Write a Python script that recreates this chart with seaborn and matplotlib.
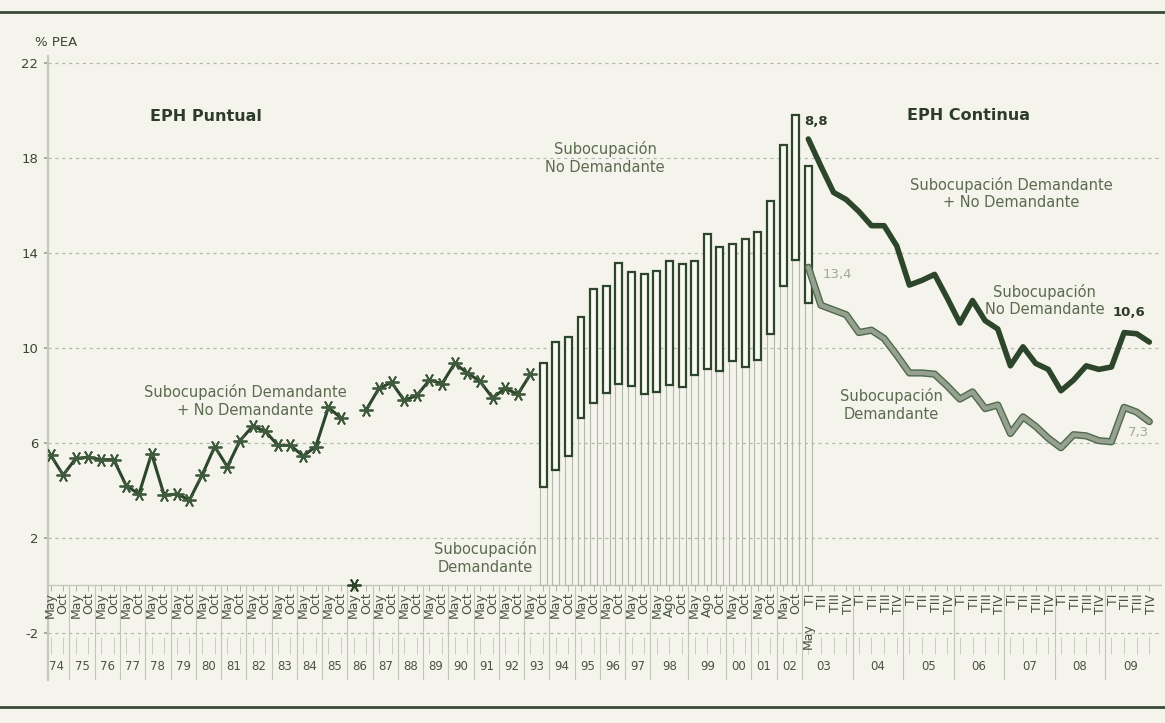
import numpy as np
import pandas as pd
import matplotlib
matplotlib.use("Agg")
import matplotlib.pyplot as plt
import matplotlib.patheffects as pe
import seaborn as sns

# EPH puntual: ondas por año
anios_puntual = ['74', '75', '76', '77', '78', '79', '80', '81', '82', '83', '84', '85', '86',
                 '87', '88', '89', '90', '91', '92', '93', '94', '95', '96', '97', '98', '99',
                 '00', '01', '02', '03']
ondas_puntual = ([['May', 'Oct']] * 24 + [['May', 'Ago', 'Oct']] * 2
                 + [['May', 'Oct']] * 3 + [['May']])

# subocupacion total (linea 74 May - 93 May), None = sin dato (May 86)
sub_total_linea = [5.5, 4.65, 5.35, 5.4, 5.3, 5.3, 4.2, 3.85, 5.55, 3.8,
                   3.85, 3.6, 4.65, 5.85, 5.0, 6.1, 6.7, 6.5, 5.9, 5.9,
                   5.45, 5.85, 7.5, 7.05, None, 7.4, 8.3, 8.55, 7.8, 8.0,
                   8.65, 8.5, 9.35, 8.95, 8.6, 7.9, 8.3, 8.05, 8.9]

# barras 93 Oct - 03 May: total (techo) y demandante (base)
sub_total_barras = [9.35, 10.25, 10.45, 11.3, 12.5, 12.6, 13.6, 13.2, 13.1, 13.25, 13.65,
                    13.55, 13.65, 14.8, 14.25, 14.4, 14.6, 14.9, 16.2, 18.55, 19.8, 17.65]
sub_dem_barras = [4.15, 4.85, 5.45, 7.05, 7.7, 8.1, 8.5, 8.4, 8.05, 8.15, 8.45,
                  8.35, 8.85, 9.1, 9.05, 9.45, 9.2, 9.5, 10.6, 12.6, 13.7, 11.9]

# EPH continua trimestral 2003 TI - 2009 TIV
anios_continua = ['03', '04', '05', '06', '07', '08', '09']
trimestres = ['TI', 'TII', 'TIII', 'TIV']
sub_total_continua = [18.8, 17.65, 16.55, 16.25, 15.75, 15.15, 15.15, 14.3, 12.65, 12.85,
                      13.1, 12.1, 11.05, 12.0, 11.15, 10.8, 9.25, 10.05, 9.35, 9.1,
                      8.2, 8.65, 9.25, 9.1, 9.2, 10.65, 10.6, 10.25]
sub_dem_continua = [13.4, 11.8, 11.6, 11.4, 10.65, 10.75, 10.4, 9.7, 8.95, 8.95,
                    8.9, 8.4, 7.85, 8.15, 7.45, 7.6, 6.4, 7.1, 6.7, 6.2,
                    5.8, 6.35, 6.3, 6.1, 6.05, 7.5, 7.3, 6.9]

# colores
FONDO = '#f4f4ec'
VERDE = '#2c452b'
GRIS_VERDE = '#5c6a50'
GRILLA = '#b4b8ab'

# posiciones
pos_p, lab_p, anio_p = [], [], []
for a, ondas in zip(anios_puntual, ondas_puntual):
    for o in ondas:
        pos_p.append(len(pos_p))
        lab_p.append(o)
        anio_p.append(a)
inicio_c = pos_p[-1]
pos_c, lab_c, anio_c = [], [], []
for a in anios_continua:
    for t in trimestres:
        pos_c.append(inicio_c + len(pos_c))
        lab_c.append(t)
        anio_c.append(a)

sns.set_theme(style="white")
plt.rcParams['font.family'] = ['DejaVu Sans']
plt.rcParams['axes.unicode_minus'] = False

fig = plt.figure(figsize=(11.65, 7.23), dpi=100, facecolor=FONDO)
ax = fig.add_axes([0.0412, 0.0588, 0.9562, 0.8639], facecolor=FONDO)

# linea puntual (dos tramos por el dato faltante)
n_lin = len(sub_total_linea)
df_lin = pd.DataFrame({'x': pos_p[:n_lin], 'y': sub_total_linea})
df_lin['tramo'] = df_lin['y'].isna().cumsum()
faltan = df_lin[df_lin['y'].isna()]
df_lin = df_lin.dropna()
sns.lineplot(data=df_lin, x='x', y='y', units='tramo', estimator=None, ax=ax,
             color=VERDE, lw=2.2, marker=(6, 2, 90), markersize=10,
             markeredgewidth=1.3, markeredgecolor='#3f5a3c', legend=False, zorder=4)
ax.plot(faltan['x'], np.zeros(len(faltan)), ls='none', marker=(6, 2, 90), ms=10,
        mew=1.3, mec=VERDE, zorder=4)

# barras flotantes
n_bar = len(sub_total_barras)
x_bar = pos_p[-n_bar:]
dem = np.array(sub_dem_barras)
tot = np.array(sub_total_barras)
ax.bar(x_bar, dem, width=0.55, facecolor='none', edgecolor='#b3b9aa', lw=0.8, zorder=2)
ax.bar(x_bar, tot - dem, bottom=dem, width=0.55, facecolor='#fafaf4',
       edgecolor=VERDE, lw=1.6, zorder=3)

# lineas continua
df_c = pd.DataFrame({'x': pos_c, 'total': sub_total_continua, 'dem': sub_dem_continua})
sns.lineplot(data=df_c, x='x', y='dem', ax=ax, color='#97a191', lw=3.2, zorder=4,
             path_effects=[pe.Stroke(linewidth=5.2, foreground='#4f6a4a'), pe.Normal()])
sns.lineplot(data=df_c, x='x', y='total', ax=ax, color=VERDE, lw=4, zorder=5)

# ejes
ax.set_xlim(-0.2, 88.0)
ax.set_ylim(-4.0, 22.3)
ax.set_yticks([22, 18, 14, 10, 6, 2, -2])
ax.set_xticks([])
ax.set_xlabel('')
ax.set_ylabel('')
ax.tick_params(axis='y', labelsize=9.5, labelcolor='#3a4636', length=3, color='#9aa091',
               left=True, pad=4)
ax.yaxis.grid(True, color=GRILLA, lw=0.9, ls=(0, (2.5, 3)))
ax.set_axisbelow(True)
for s in ['top', 'right', 'bottom']:
    ax.spines[s].set_visible(False)
ax.spines['left'].set_color('#c5c9bd')
ax.spines['left'].set_linewidth(1.6)
ax.axhline(0, color='#c5c9bd', lw=1, zorder=1)

# etiquetas de ondas / trimestres
for x, l in zip(pos_p, lab_p):
    ytop = -1.6 if (x == inicio_c) else -0.3
    ax.text(x, ytop, l, rotation=90, ha='center', va='top', fontsize=9, color='#47533f')
for x, l in zip(pos_c, lab_c):
    ax.text(x + 0.15, -0.35, l, rotation=90, ha='center', va='top', fontsize=9, color='#47533f')

# marcas, separadores y años
todas_x = pos_p + pos_c
todos_a = anio_p + anio_c
ax.vlines(todas_x, 0, -0.25, color='#b0b5a8', lw=0.7)
ax.vlines(todas_x, -2.15, -2.9, color='#c9cdc1', lw=0.7)
df_a = pd.DataFrame({'x': todas_x, 'anio': todos_a})
orden = list(dict.fromkeys(todos_a))
g = df_a.groupby('anio', sort=False)['x']
centros = g.mean().reindex(orden)
bordes = (g.max().reindex(orden).values[:-1] + g.min().reindex(orden).values[1:]) / 2
ax.vlines(bordes, 0, -4.0, color='#c2c6ba', lw=0.8)
for a, cx in centros.items():
    ax.text(cx, -3.43, a, ha='center', va='center', fontsize=8.5, color='#4a5444')

# textos
ax.text(7.9, 19.73, 'EPH Puntual', fontsize=11.5, fontweight='bold', color='#2d3b2a', va='center')
ax.text(67.8, 19.8, 'EPH Continua', fontsize=11.5, fontweight='bold', color='#2d3b2a', va='center')
kw = dict(ha='center', va='center', fontsize=10.5, color=GRIS_VERDE)
ax.text(15.4, 7.77, 'Subocupación Demandante\n+ No Demandante', **kw)
ax.text(43.9, 18.0, 'Subocupación\nNo Demandante', **kw)
ax.text(34.4, 1.15, 'Subocupación\nDemandante', **kw)
ax.text(76.1, 16.5, 'Subocupación Demandante\n+ No Demandante', **kw)
ax.text(78.7, 12.0, 'Subocupación\nNo Demandante', **kw)
ax.text(66.6, 7.6, 'Subocupación\nDemandante', **kw)
ax.text(59.7, 19.52, '8,8', fontsize=9.5, fontweight='bold', color='#2d3b2a', va='center', zorder=6)
ax.text(61.1, 13.1, '13,4', fontsize=9.5, color='#a3a99c', va='center')
ax.text(84.1, 11.49, '10,6', fontsize=9.5, fontweight='bold', color='#2d3b2a', va='center')
ax.text(85.3, 6.44, '7,3', fontsize=9.5, color='#a3a99c', va='center')

fig.text(35 / 1165, 1 - 43 / 723, '% PEA', fontsize=9.5, color='#3a4636', va='center')

# reglas superior e inferior
fig.add_artist(plt.Line2D([0, 1], [0.983, 0.983], color='#3a4a38', lw=2))
fig.add_artist(plt.Line2D([0, 1], [0.022, 0.022], color='#3a4a38', lw=2))

fig.savefig('out.png', dpi=100, facecolor=FONDO)
